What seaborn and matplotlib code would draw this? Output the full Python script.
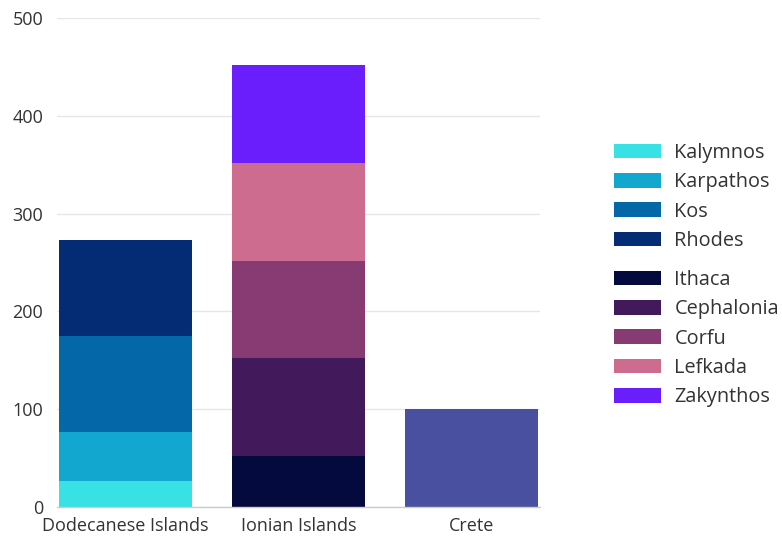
import matplotlib
matplotlib.use("Agg")
import matplotlib.pyplot as plt
from matplotlib.patches import Patch
import seaborn as sns
import pandas as pd

groups = ["Dodecanese Islands", "Ionian Islands", "Crete"]

dodecanese_names = ["Kalymnos", "Karpathos", "Kos", "Rhodes"]
dodecanese_values = [27, 50, 98, 98]
dodecanese_colors = ["#38E1E4", "#12A7CF", "#0467A8", "#032C74"]

ionian_names = ["Ithaca", "Cephalonia", "Corfu", "Lefkada", "Zakynthos"]
ionian_values = [52, 100, 100, 100, 100]
ionian_colors = ["#050A3E", "#421A5B", "#883B73", "#CE6C8F", "#6A1EFC"]

crete_names = ["Crete"]
crete_values = [100]
crete_colors = ["#4A50A0"]

rows = []
for g, names, vals, cols in [
    (groups[0], dodecanese_names, dodecanese_values, dodecanese_colors),
    (groups[1], ionian_names, ionian_values, ionian_colors),
    (groups[2], crete_names, crete_values, crete_colors),
]:
    cum = 0
    for n, v, c in zip(names, vals, cols):
        cum += v
        rows.append({"group": g, "segment": n, "value": v, "top": cum, "color": c})
df = pd.DataFrame(rows)

sns.set_theme(style="white")
plt.rcParams["font.family"] = ["Open Sans", "DejaVu Sans"]

fig = plt.figure(figsize=(7.82, 5.37), dpi=100)
ax = fig.add_axes([57 / 782, 1 - 507 / 537, (540 - 57) / 782, (507 - 18) / 537])

# draw from highest cumulative top to lowest so lower segments overlay
for _, r in df.sort_values("top", ascending=False).iterrows():
    sns.barplot(x=[r["group"]], y=[r["top"]], order=groups, color=r["color"],
                saturation=1, width=0.77, ax=ax, zorder=2, linewidth=0)

ax.set_ylim(0, 500)
ax.set_xlim(-0.395, 2.395)
ax.set_yticks([0, 100, 200, 300, 400, 500])
ax.yaxis.grid(True, color="#e6e6e6", linewidth=1, zorder=0)
ax.set_axisbelow(True)
for s in ["top", "right", "left"]:
    ax.spines[s].set_visible(False)
ax.spines["bottom"].set_color("#cccccc")
ax.spines["bottom"].set_linewidth(1)
ax.set_xlabel("")
ax.set_ylabel("")
ax.tick_params(axis="both", length=0, labelsize=13, colors="#333333")
ax.tick_params(axis="y", pad=10)
ax.tick_params(axis="x", pad=7)

h1 = [Patch(facecolor=c, edgecolor="none") for c in dodecanese_colors]
h2 = [Patch(facecolor=c, edgecolor="none") for c in ionian_colors]
leg_kw = dict(frameon=False, fontsize=14.3, handlelength=2.36, handleheight=0.75,
              handletextpad=0.68, labelspacing=0.47, borderpad=0, borderaxespad=0,
              labelcolor="#333333")
leg1 = fig.legend(h1, dodecanese_names, loc="upper left",
                  bbox_to_anchor=(614 / 782, 1 - 143 / 537), **leg_kw)
leg2 = fig.legend(h2, ionian_names, loc="upper left",
                  bbox_to_anchor=(614 / 782, 1 - 270 / 537), **leg_kw)

fig.savefig("out.png", dpi=100)
